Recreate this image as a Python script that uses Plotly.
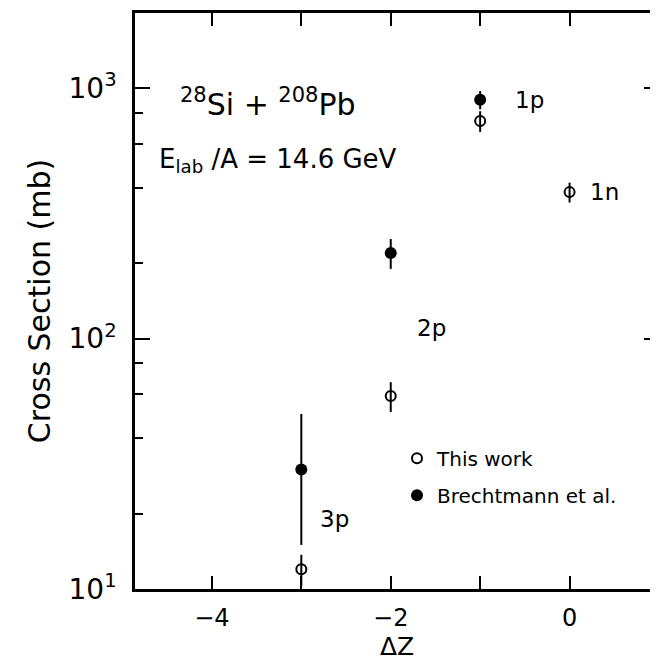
import numpy as np
import plotly.graph_objects as go

# Data
this_dz = [-3, -2, -1, 0]
this_cs = [12, 59, 740, 385]
this_err = [1.7, 8, 70, 35]

brecht_dz = [-3, -2, -1]
brecht_cs = [30, 220, 900]
brecht_err_plus = [20, 30, 75]
brecht_err_minus = [15, 30, 75]

x_tickvals = [-4, -3, -2, -1, 0]
x_ticktext = ["\u22124", "", "\u22122", "", "0"]
y_tickvals = [10, 100, 1000]
y_ticktext = ["10<sup>1</sup>", "10<sup>2</sup>", "10<sup>3</sup>"]
y_minor = [20, 40, 60, 80, 200, 400, 600, 800]

labels = ["1p", "1n", "2p", "3p"]
label_x = [-0.63, 0.21, -1.725, -2.81]
label_y = [900, 385, 110, 19]

FONT = "DejaVu Sans"

fig = go.Figure()
fig.add_trace(go.Scatter(
    x=this_dz, y=this_cs, mode="markers", name="This work",
    legendgroup="a",
    marker=dict(symbol="circle-open", size=10, color="black", line=dict(width=2)),
    error_y=dict(type="data", array=this_err, width=0, thickness=2, color="black"),
))
fig.add_trace(go.Scatter(
    x=brecht_dz, y=brecht_cs, mode="markers", name="Brechtmann et al.",
    legendgroup="b",
    marker=dict(symbol="circle", size=12, color="black"),
    error_y=dict(type="data", array=brecht_err_plus, arrayminus=brecht_err_minus,
                 symmetric=False, width=0, thickness=2, color="black"),
))

for t, x, y in zip(labels, label_x, label_y):
    fig.add_annotation(x=x, y=np.log10(y), xref="x", yref="y", text=t,
                       showarrow=False, xanchor="left", yanchor="middle",
                       font=dict(family=FONT, size=23, color="black"))

fig.add_annotation(x=-4.38, y=2.945, xref="x", yref="y",
                   text="<sup>28</sup>Si\u00a0+\u00a0<sup>208</sup>Pb", showarrow=False,
                   xanchor="left", yanchor="middle",
                   font=dict(family=FONT, size=30, color="black"))
fig.add_annotation(x=-4.61, y=2.71, xref="x", yref="y",
                   text="E<sub>lab</sub> /A = 14.6 GeV", showarrow=False,
                   xanchor="left", yanchor="middle",
                   font=dict(family=FONT, size=26, color="black"))

fig.update_xaxes(
    range=[-4.86, 1.0], tickmode="array", tickvals=x_tickvals, ticktext=x_ticktext,
    ticks="inside", ticklen=13, tickwidth=2, tickcolor="black",
    mirror="allticks", showline=True, linecolor="black", linewidth=2.5,
    showgrid=False, zeroline=False, automargin=False, ticklabelstandoff=5,
    tickfont=dict(family=FONT, size=24, color="black"),
    title=dict(text="\u0394Z", font=dict(family=FONT, size=25, color="black"), standoff=2),
)
fig.update_yaxes(
    type="log", range=[1, np.log10(2000)], tickmode="array",
    tickvals=y_tickvals, ticktext=y_ticktext,
    ticks="inside", ticklen=15, tickwidth=2, tickcolor="black",
    minor=dict(tickmode="array", tickvals=y_minor, ticks="inside", ticklen=8,
               tickwidth=1.5, tickcolor="black", showgrid=False),
    mirror="allticks", showline=True, linecolor="black", linewidth=2.5,
    showgrid=False, zeroline=False, automargin=False, ticklabelstandoff=10,
    tickfont=dict(family=FONT, size=28, color="black"),
    title=dict(text="Cross Section (mb)", font=dict(family=FONT, size=30, color="black"),
               standoff=10),
)

fig.update_layout(
    width=658, height=661,
    margin=dict(l=127, r=7, t=5, b=80),
    paper_bgcolor="white", plot_bgcolor="white",
    showlegend=True,
    legend=dict(x=0.5, y=0.195, xanchor="left", yanchor="middle",
                traceorder="grouped", tracegroupgap=8,
                bgcolor="rgba(0,0,0,0)", itemwidth=30,
                font=dict(family=FONT, size=20, color="black")),
)

fig.write_html("out.html")
